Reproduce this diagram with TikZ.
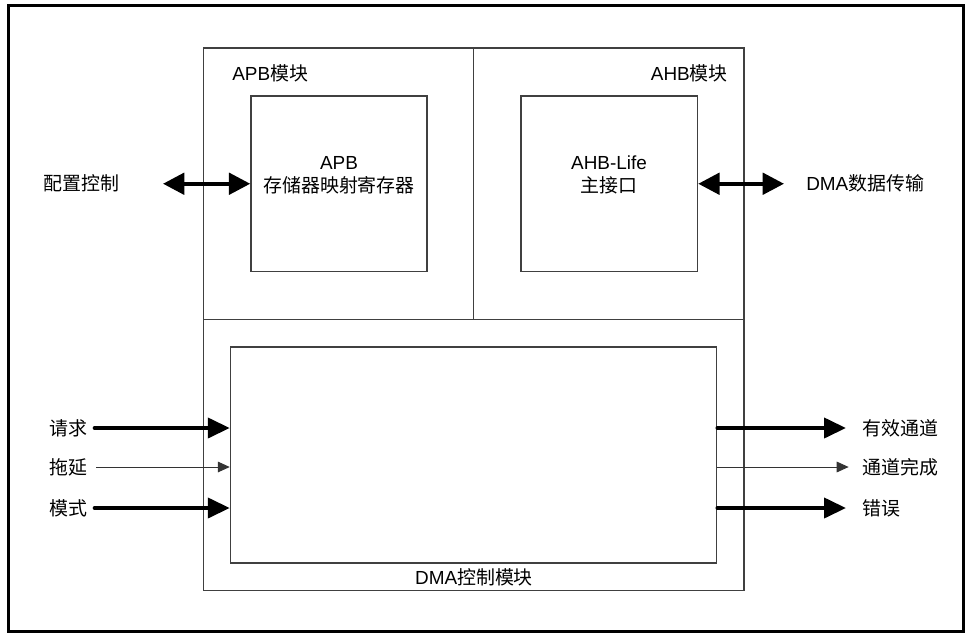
\documentclass[tikz,border=0pt]{standalone}
\usepackage{fontspec}
\setmainfont{Liberation Sans}
\newfontfamily\cjk{Noto Sans CJK SC}
\newcommand{\zh}[1]{{\cjk #1}}
\usetikzlibrary{arrows.meta,fit}
\begin{document}
\begin{tikzpicture}[x=0.75pt,y=-0.75pt,
  every node/.style={font=\fontsize{14.2}{17.5}\selectfont},
  frame/.style={draw=black,line width=2.25pt},
  box/.style={draw=black!75,line width=1.1pt,inner sep=0pt},
  lbl/.style={inner sep=0pt},
  bigarrow/.style={line width=3pt,line cap=round,-{Triangle[length=16.5pt,width=15pt]}},
  dblarrow/.style={line width=3pt,{Triangle[length=16pt,width=16pt]}-{Triangle[length=16pt,width=16pt]}},
  thinarrow/.style={line width=0.75pt,draw=black!80,-{Triangle[length=9pt,width=8pt]}}]
\useasboundingbox (0,0) rectangle (966,635);
\draw[frame] (8.5,5.5) rectangle (963.5,631);
% modules
\node[box,fit={(203.5,48) (473.5,319.5)}] (apbmod) {};
\node[box,fit={(473.5,48) (744,319.5)}] (ahbmod) {};
\node[box,fit={(203.5,319.5) (744,590.5)}] (dmamod) {};
% inner boxes
\node[box,fit={(251,96) (427,271.5)}] (apbin) {};
\node[box,fit={(521,96) (697.5,271.5)}] (ahbin) {};
\node[box,fit={(230.5,347) (716.7,563)}] (dmain) {};
% titles
\node[lbl,anchor=west] (apbt) at (232,73) {APB\zh{模块}};
\node[lbl,anchor=east] (ahbt) at (728,73) {AHB\zh{模块}};
\node[lbl,align=center] (apbtxt) at (339,175) {APB\\[0pt]\zh{存储器映射寄存器}};
\node[lbl,align=center] (ahbtxt) at (609,175) {AHB-Life\\[0pt]\zh{主接口}};
\node[lbl] (dmat) at (474,577) {DMA\zh{控制模块}};
% side labels
\node[lbl,anchor=west] (cfg) at (43,183) {\zh{配置控制}};
\node[lbl,anchor=west] (dmax) at (806,183) {DMA\zh{数据传输}};
\node[lbl,anchor=east] (req) at (88,428) {\zh{请求}};
\node[lbl,anchor=east] (stall) at (88,467) {\zh{拖延}};
\node[lbl,anchor=east] (mode) at (88,508) {\zh{模式}};
\node[lbl,anchor=west] (valid) at (862,428) {\zh{有效通道}};
\node[lbl,anchor=west] (done) at (862,467) {\zh{通道完成}};
\node[lbl,anchor=west] (err) at (862,508) {\zh{错误}};
% connectors
\coordinate (cfgend) at (163,183.75);
\coordinate (dmaxend) at (784,183.75);
\draw[dblarrow] (cfgend) -- (apbin.west);
\draw[dblarrow] (ahbin.east) -- (dmaxend);
\draw[bigarrow] ([xshift=5]req.east) -- (req.east -| dmain.west);
\draw[thinarrow] ([xshift=6]stall.east) -- (stall.east -| dmain.west);
\draw[bigarrow] ([xshift=5]mode.east) -- (mode.east -| dmain.west);
\draw[bigarrow] (dmain.east |- valid.west) -- ([xshift=-12]valid.west);
\draw[thinarrow] (dmain.east |- done.west) -- ([xshift=-10]done.west);
\draw[bigarrow] (dmain.east |- err.west) -- ([xshift=-12]err.west);
\end{tikzpicture}
\end{document}
